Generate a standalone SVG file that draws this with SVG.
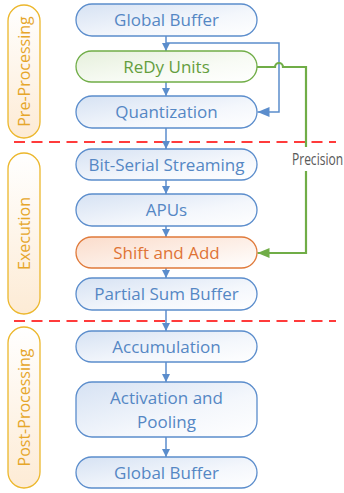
<svg xmlns="http://www.w3.org/2000/svg" width="344" height="493" viewBox="0 0 344 493">
<defs>
<linearGradient id="gBlue" x1="0" y1="0" x2="1" y2="1"><stop offset="0" stop-color="#d6e2f3"/><stop offset="0.6" stop-color="#f4f7fc"/><stop offset="1" stop-color="#ffffff"/></linearGradient>
<linearGradient id="gGreen" x1="0" y1="0" x2="1" y2="1"><stop offset="0" stop-color="#e6f0dc"/><stop offset="0.6" stop-color="#f8fbf5"/><stop offset="1" stop-color="#ffffff"/></linearGradient>
<linearGradient id="gOrange" x1="0" y1="0" x2="1" y2="1"><stop offset="0" stop-color="#fbdccb"/><stop offset="0.6" stop-color="#fdf1ea"/><stop offset="1" stop-color="#ffffff"/></linearGradient>
<linearGradient id="gGold" x1="0" y1="0" x2="0" y2="1"><stop offset="0" stop-color="#ffffff"/><stop offset="1" stop-color="#fdebd5"/></linearGradient>
<marker id="aBlue" markerUnits="userSpaceOnUse" markerWidth="10" markerHeight="10" refX="8" refY="4" orient="auto"><path d="M0,0 L8,4 L0,8 Z" fill="#5b8dcc"/></marker>
<marker id="aBlueL" markerUnits="userSpaceOnUse" markerWidth="14" markerHeight="12" refX="12" refY="5" orient="auto"><path d="M0,0 L12,5 L0,10 Z" fill="#5b8dcc"/></marker>
<marker id="aGreen" markerUnits="userSpaceOnUse" markerWidth="14" markerHeight="12" refX="12" refY="5" orient="auto"><path d="M0,0 L12,5 L0,10 Z" fill="#70ad47"/></marker>
</defs>
<style>
.box{fill:url(#gBlue);stroke:#5b8dcc;stroke-width:1.3}
.boxG{fill:url(#gGreen);stroke:#70ad47;stroke-width:1.3}
.boxO{fill:url(#gOrange);stroke:#e07a3a;stroke-width:1.3}
.pill{fill:url(#gGold);stroke:#ecb72c;stroke-width:1.3}
.t{font-family:"Open Sans","Liberation Sans",sans-serif;font-size:17px;text-anchor:middle;fill:#5587c4}
.tG{fill:#649e3e}
.tO{fill:#df7436}
.side{font-family:"Open Sans","Liberation Sans",sans-serif;font-size:16px;text-anchor:middle;fill:#e6a62a}
.prec{font-family:"Open Sans","Liberation Sans",sans-serif;font-size:16px;fill:#595959}
.arr{stroke:#5b8dcc;stroke-width:1.5;fill:none}
.grn{stroke:#70ad47;stroke-width:2.2;fill:none}
.dash{stroke:#ff3b3b;stroke-width:2;stroke-dasharray:11 6.5;fill:none}
</style>
<g id="separators">
<line class="dash" x1="14" y1="142" x2="336" y2="142"/>
<line class="dash" x1="14" y1="321" x2="336" y2="321"/>
</g>
<g id="stage-pre"><rect class="pill" x="8" y="5" width="32" height="133" rx="16"/><text class="side" transform="translate(30,71.5) rotate(-90)">Pre-Processing</text></g>
<g id="stage-exec"><rect class="pill" x="8" y="153" width="32" height="161" rx="16"/><text class="side" transform="translate(30,233.5) rotate(-90)">Execution</text></g>
<g id="stage-post"><rect class="pill" x="8" y="327" width="32" height="161" rx="16"/><text class="side" transform="translate(30,407.5) rotate(-90)">Post-Processing</text></g>
<g id="connectors">
<line class="arr" x1="166" y1="36" x2="166" y2="51" marker-end="url(#aBlue)"/>
<line class="arr" x1="166" y1="82" x2="166" y2="96" marker-end="url(#aBlue)"/>
<line class="arr" x1="166" y1="128" x2="166" y2="149" marker-end="url(#aBlue)"/>
<line class="arr" x1="166" y1="180" x2="166" y2="194" marker-end="url(#aBlue)"/>
<line class="arr" x1="166" y1="226" x2="166" y2="237" marker-end="url(#aBlue)"/>
<line class="arr" x1="166" y1="268" x2="166" y2="278" marker-end="url(#aBlue)"/>
<line class="arr" x1="166" y1="310" x2="166" y2="331" marker-end="url(#aBlue)"/>
<line class="arr" x1="166" y1="362" x2="166" y2="382" marker-end="url(#aBlue)"/>
<line class="arr" x1="166" y1="437" x2="166" y2="457" marker-end="url(#aBlue)"/>
<path class="arr" d="M166,43 H279 V112 H257.5" marker-end="url(#aBlueL)"/>
<path class="grn" d="M257,67 H275 A4,4 0 0 1 283,67 H306 V147"/>
<path class="grn" d="M306,171 V253 H257.5" marker-end="url(#aGreen)"/>
<text class="prec" x="292" y="165" textLength="51" lengthAdjust="spacingAndGlyphs">Precision</text>
</g>
<g id="n-gb1"><rect class="box" x="76" y="4" width="181" height="32" rx="16"/><text class="t" x="166.5" y="26">Global Buffer</text></g>
<g id="n-redy"><rect class="boxG" x="76" y="51" width="181" height="31" rx="15.5"/><text class="t tG" x="166.5" y="72.5">ReDy Units</text></g>
<g id="n-quant"><rect class="box" x="76" y="96" width="181" height="32" rx="16"/><text class="t" x="166.5" y="118">Quantization</text></g>
<g id="n-bss"><rect class="box" x="76" y="149" width="181" height="31" rx="15.5"/><text class="t" x="166.5" y="170.5">Bit-Serial Streaming</text></g>
<g id="n-apus"><rect class="box" x="76" y="194" width="181" height="32" rx="16"/><text class="t" x="166.5" y="216">APUs</text></g>
<g id="n-shift"><rect class="boxO" x="76" y="237" width="181" height="31" rx="15.5"/><text class="t tO" x="166.5" y="258.5">Shift and Add</text></g>
<g id="n-psb"><rect class="box" x="76" y="278" width="181" height="32" rx="16"/><text class="t" x="166.5" y="300">Partial Sum Buffer</text></g>
<g id="n-acc"><rect class="box" x="76" y="331" width="181" height="31" rx="15.5"/><text class="t" x="166.5" y="352.5">Accumulation</text></g>
<g id="n-act"><rect class="box" x="76" y="382" width="181" height="55" rx="16"/><text class="t" x="166.5" y="404">Activation and</text><text class="t" x="166.5" y="428">Pooling</text></g>
<g id="n-gb2"><rect class="box" x="76" y="457" width="181" height="31" rx="15.5"/><text class="t" x="166.5" y="478.5">Global Buffer</text></g>
</svg>
